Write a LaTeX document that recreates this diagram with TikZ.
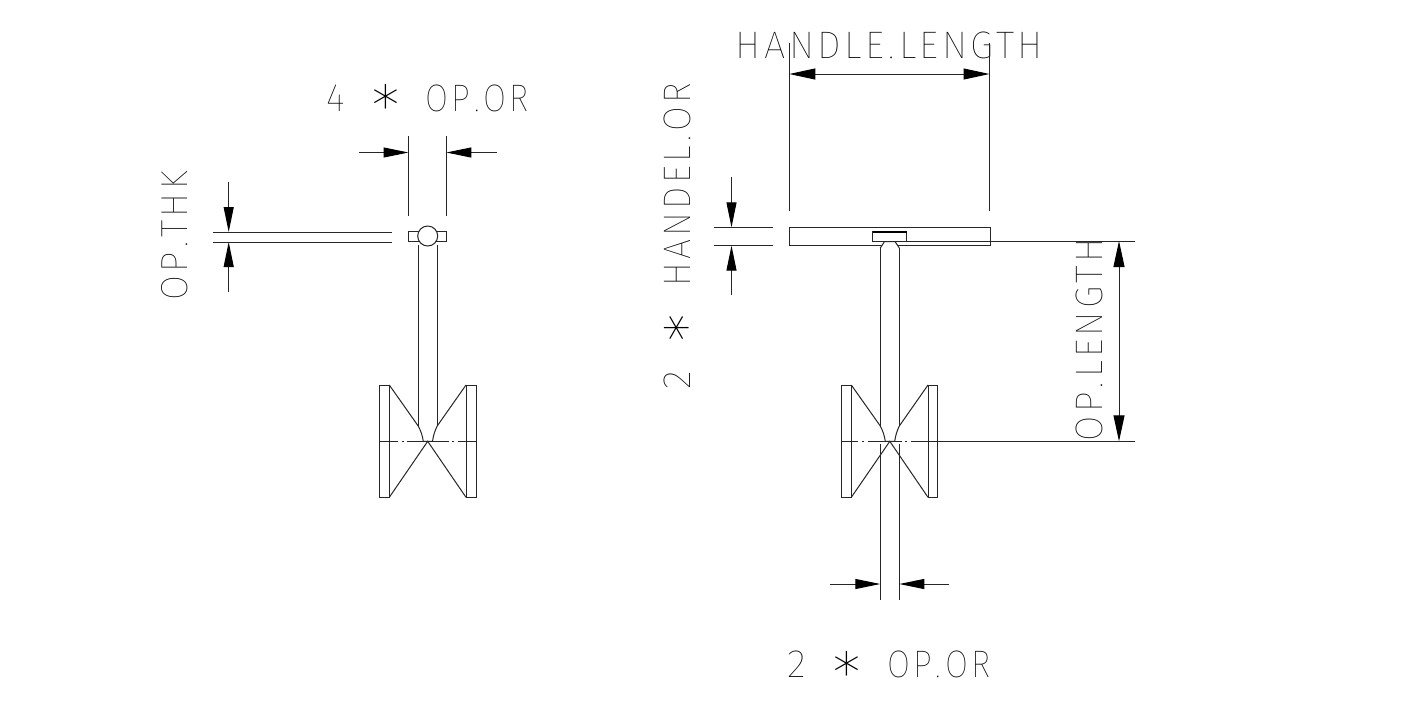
\documentclass[tikz,border=0pt]{standalone}
\usepackage{fontspec}
\usepackage{graphicx}
\usetikzlibrary{arrows.meta}
\newfontfamily\cadfont[LetterSpace=9]{Fira Sans Thin}
\newfontfamily\cadplain{Fira Sans Thin}
\newfontfamily\starfont{DejaVu Sans ExtraLight}
\newcommand{\cadtext}[3]{\resizebox{#1pt}{#2pt}{\cadfont #3}}
\newcommand{\pd}{\kern.12em.\kern.12em}
% number, star and words of one label, each fitted to the width it has in the drawing
\newcommand{\cadstar}{\makebox[20pt][c]{\raisebox{-13.75pt}[0pt][0pt]{\fontsize{54}{54}\selectfont\starfont *}}}
\newcommand{\cadlabel}[5]{\hbox{\resizebox{18.5pt}{26.5pt}{\cadplain #1}\hskip#2pt\cadstar\hskip#3pt\cadtext{#4}{26.5}{#5}}}
\tikzset{
  ln/.style={line width=1pt,color=black!85},
  tip/.style={-{Triangle[length=25pt,width=10pt,color=black]}},
  bigtip/.style={{Triangle[length=26pt,width=11pt,color=black]}-{Triangle[length=26pt,width=11pt,color=black]}},
  heavy/.style={line width=1.6pt,color=black},
  lbl/.style={inner sep=0pt,outer sep=0pt,text=black}
}
\begin{document}
\begin{tikzpicture}[x=1pt,y=-1pt]
\useasboundingbox (0,0) rectangle (1410,713);
\fill[white] (0,0) rectangle (1410,713);

% ---------- left view ----------
\node[lbl] (t4or) at (427.5,98) {\cadlabel{4}{31}{29.5}{103}{OP\pd OR}};
\node[lbl,rotate=90] (tthk) at (174.5,236) {\cadtext{129}{26}{OP\pd THK}};

\coordinate (aL) at (408.5,152.5); \coordinate (aR) at (446.3,152.5);
\coordinate (aLo) at (359,152.5);  \coordinate (aRo) at (497,152.5);
\draw[ln] (408.5,136) -- (408.5,216);
\draw[ln] (446.3,136) -- (446.3,216);
\draw[ln,tip] (aLo) -- (aL);
\draw[ln,tip] (aRo) -- (aR);

\draw[ln] (213,232) -- (392,232);
\draw[ln] (213,242) -- (392,242);
\coordinate (tT) at (228.7,232); \coordinate (tB) at (228.7,242);
\coordinate (tTo) at (228.7,182); \coordinate (tBo) at (228.7,292);
\draw[ln,tip] (tTo) -- (tT);
\draw[ln,tip] (tBo) -- (tB);

\draw[ln] (408.5,231.7) rectangle (446.5,241.7);
\draw[ln,fill=white] (427.7,236) circle (10);
\draw[ln] (418.2,245) -- (418.2,426);
\draw[ln] (437.2,245) -- (437.2,426);

\draw[ln] (379.3,385) rectangle (389.3,497.3);
\draw[ln] (466,385) rectangle (476,497.3);
\draw[ln] (389.3,385) -- (418.2,426) .. controls (421,431) and (422.5,436) .. (423.3,441.3) -- (432.5,441.3)
  .. controls (433.3,436) and (434.6,431) .. (437.2,426) -- (466,385);
\draw[ln] (389.3,497.3) -- (427.7,441.3) -- (466,497.3);
\draw[ln] (379.3,441.3) -- (398,441.3) (402,441.3) -- (404,441.3) (407,441.3) -- (449,441.3)
  (452,441.3) -- (454,441.3) (458,441.3) -- (476,441.3);

% ---------- right view ----------
\node[lbl] (thl) at (889.5,45) {\cadtext{307}{26.5}{HANDLE\pd LENGTH}};
\node[lbl,rotate=90] (thor) at (677.5,236.5) {\cadlabel{2}{33}{32}{203}{HANDEL\pd OR}};
\node[lbl,rotate=90] (tol) at (1089.5,340) {\cadtext{203}{26.5}{OP\pd LENGTH}};
\node[lbl] (t2or) at (889,664.5) {\cadlabel{2}{31}{30}{103}{OP\pd OR}};

\draw[ln] (789.3,43) -- (789.3,211);
\draw[ln] (989.5,43) -- (989.5,211);
\coordinate (hL) at (789.3,74); \coordinate (hR) at (989.5,74);
\draw[ln,bigtip] (hL) -- (hR);

\draw[ln] (714,227.3) -- (773,227.3);
\draw[ln] (714,245.7) -- (773,245.7);
\coordinate (rT) at (731.5,227.3); \coordinate (rB) at (731.5,245.7);
\coordinate (rTo) at (731.5,177); \coordinate (rBo) at (731.5,295);
\draw[ln,tip] (rTo) -- (rT);
\draw[ln,tip] (rBo) -- (rB);

\draw[ln] (789.3,227.3) rectangle (990,245.7);
\draw[ln] (872.7,231.7) rectangle (906.7,241);
\draw[heavy] (872.7,232) -- (906.7,232);
\draw[ln] (906.7,241) -- (1135,241);
\draw[ln,fill=white] (880.3,248) -- (884.5,241.5) -- (895,241.5) -- (899.3,248);
\draw[ln] (880.3,248) -- (880.3,426);
\draw[ln] (899.3,248) -- (899.3,426);
\draw[ln] (880.3,444) -- (880.3,600);
\draw[ln] (899.3,444) -- (899.3,600);

\coordinate (oT) at (1119,241); \coordinate (oB) at (1119,441.3);
\draw[ln,bigtip] (oT) -- (oB);

\coordinate (wL) at (830,584); \coordinate (wR) at (949,584);
\coordinate (wA) at (880.3,584); \coordinate (wB) at (899.3,584);
\draw[ln,tip] (wL) -- (wA);
\draw[ln,tip] (wR) -- (wB);

\draw[ln] (841.7,385) rectangle (851.3,497.3);
\draw[ln] (928,385) rectangle (937.3,497.3);
\draw[ln] (851.3,385) -- (880.3,426) .. controls (883,431) and (884.5,436) .. (885.3,441.3) -- (894.7,441.3)
  .. controls (895.5,436) and (896.8,431) .. (899.3,426) -- (928,385);
\draw[ln] (851.3,497.3) -- (889.8,441.3) -- (928,497.3);
\draw[ln] (841.7,441.3) -- (858,441.3) (862,441.3) -- (864,441.3) (868,441.3) -- (902,441.3)
  (905,441.3) -- (907,441.3) (911,441.3) -- (1135,441.3);
\end{tikzpicture}
\end{document}
